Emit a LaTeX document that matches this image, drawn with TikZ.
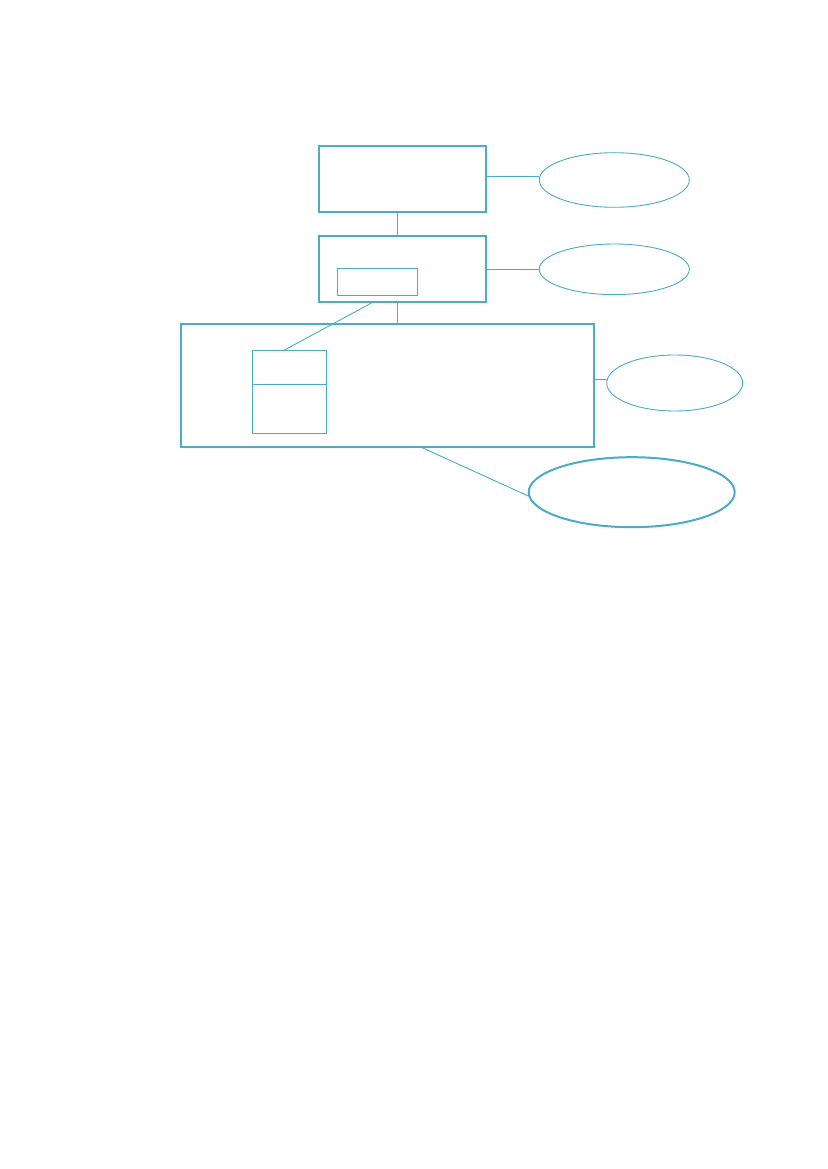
\documentclass[tikz,border=0pt]{standalone}
\usetikzlibrary{shapes.geometric}
\definecolor{teal}{RGB}{75,172,198}
\begin{document}
\begin{tikzpicture}[x=1pt,y=-1pt,
  thickbox/.style={draw=teal,line width=2pt,rectangle,inner sep=0pt,outer sep=0pt},
  thinbox/.style={draw=teal,line width=1pt,rectangle,inner sep=0pt,outer sep=0pt},
  thinell/.style={draw=teal,line width=0.9pt,ellipse,inner sep=0pt,outer sep=0pt},
  thickell/.style={draw=teal,line width=2pt,ellipse,inner sep=0pt,outer sep=0pt},
  link/.style={draw=teal,line width=0.9pt}]
\useasboundingbox[fill=white] (0,0) rectangle (827,1169);
% boxes
\node[thickbox,minimum width=167pt,minimum height=66pt] (b1) at (402,179.2) {};
\node[thickbox,minimum width=167pt,minimum height=66pt] (b2) at (402,269) {};
\node[thinbox,minimum width=80pt,minimum height=27pt] (sb) at (377.3,281.8) {};
\node[thickbox,minimum width=413pt,minimum height=123pt] (big) at (387.6,385.2) {};
\node[thinbox,minimum width=74pt,minimum height=83pt] (inb) at (289.3,391.8) {};
\coordinate (dl) at (252.3,384.3);
\coordinate (dr) at (326.3,384.3);
\draw[link] (dl) -- (dr);
% ellipses
\node[thinell,minimum width=150pt,minimum height=54.6pt] (e1) at (614.3,180) {};
\node[thinell,minimum width=150pt,minimum height=50.6pt] (e2) at (614.3,269.3) {};
\node[thinell,minimum width=136pt,minimum height=56pt] (e3) at (674.7,383) {};
\node[thickell,minimum width=206pt,minimum height=70pt] (e4) at (631.7,492.2) {};
% connectors
\draw[link] ([yshift=3pt]b1.east) -- ([yshift=3pt]b1.east -| e1.west);
\draw[link] (b2.east) -- (b2.east -| e2.west);
\draw[link] ([yshift=5.5pt]big.east) -- ([yshift=5.5pt]big.east -| e3.west);
\draw[link] ([xshift=-4.7pt]b1.south) -- ([xshift=-4.7pt]b2.north);
\draw[link] ([xshift=-4.7pt]b2.south) -- ([xshift=-4.7pt]b2.south |- big.north);
\draw[link] ([xshift=-28.7pt]b2.south) -- ([xshift=-5.3pt]inb.north);
\draw[link] ([xshift=32.4pt]big.south) -- ([yshift=-4pt]e4.west);
\end{tikzpicture}
\end{document}
